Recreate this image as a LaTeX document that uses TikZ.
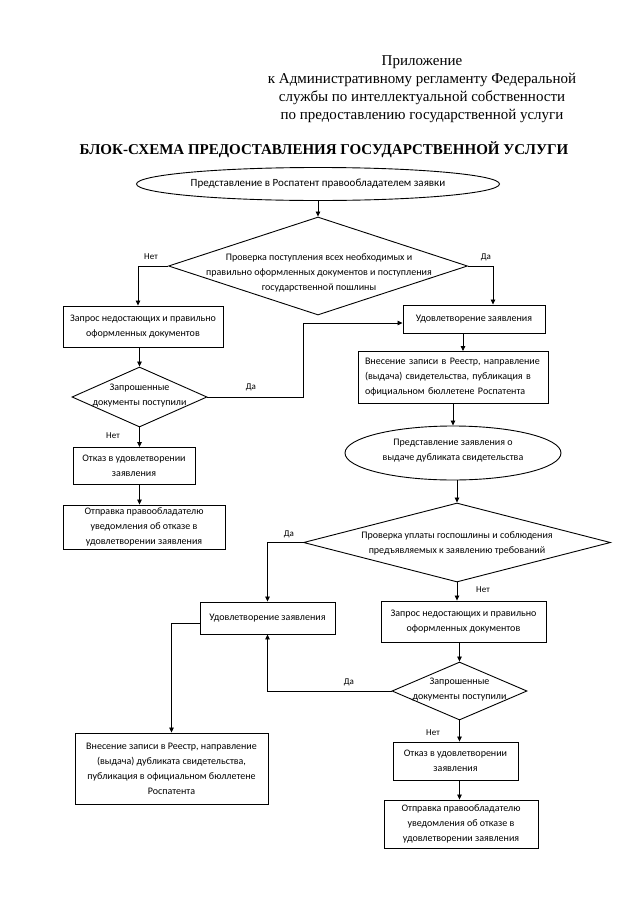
\documentclass[tikz,border=0pt]{standalone}
\usepackage{fontspec}
\setmainfont{Liberation Serif}
\newfontfamily\boxfont{Carlito}
\usetikzlibrary{shapes.geometric,arrows.meta,calc}
\begin{document}
\begin{tikzpicture}[x=1pt,y=-1pt,
  every node/.style={font=\boxfont\fontsize{10}{15}\selectfont},
  box/.style={draw, line width=0.9pt, inner sep=0pt, align=center},
  dia/.style={draw, shape=diamond, line width=0.9pt, inner sep=0pt},
  ell/.style={draw, shape=ellipse, line width=0.9pt, inner sep=0pt},
  txt/.style={align=center, inner sep=0pt},
  lbl/.style={font=\boxfont\fontsize{9}{11}\selectfont, inner sep=0pt},
  arr/.style={-{Triangle[length=5pt,width=4.5pt]}, line width=0.8pt},
  ln/.style={line width=0.8pt}
]
\path[fill=white] (0,0) rectangle (640,905);
\useasboundingbox (0,0) rectangle (640,905);

% header
\node[align=center, inner sep=0pt, font={\rmfamily\fontsize{15}{18}\selectfont}] (hdr) at (422,89)
  {Приложение\\к Административному регламенту Федеральной\\службы по интеллектуальной собственности\\по предоставлению государственной услуги};
\node[inner sep=0pt, font={\rmfamily\bfseries\fontsize{15}{18}\selectfont}] (title) at (324,150)
  {БЛОК-СХЕМА ПРЕДОСТАВЛЕНИЯ ГОСУДАРСТВЕННОЙ УСЛУГИ};

% top ellipse
\node[ell, minimum width=363pt, minimum height=33pt] (e1) at (318,184) {};
\node[txt, font=\boxfont\fontsize{11}{15}\selectfont] (e1t) at (e1) {Представление в Роспатент правообладателем заявки};

% diamond 1
\node[dia, minimum width=299pt, minimum height=98pt] (d1) at (318,266) {};
\node[txt] (d1t) at (319,273) {Проверка поступления всех необходимых и\\правильно оформленных документов и поступления\\государственной пошлины};

% left column
\node[box, minimum width=160pt, minimum height=41pt] (L1) at (143,326.5) {Запрос недостающих и правильно\\оформленных документов};
\node[dia, minimum width=135pt, minimum height=60pt] (d2) at (139.5,397) {};
\node[txt] (d2t) at (139.5,396) {Запрошенные\\документы поступили};
\node[box, minimum width=122pt, minimum height=37pt] (L3) at (134,466) {Отказ в удовлетворении\\заявления};
\node[box, minimum width=162pt, minimum height=44pt] (L4) at (144,527) {Отправка правообладателю\\уведомления об отказе в\\удовлетворении заявления};

% right column
\node[box, minimum width=142pt, minimum height=28pt] (R1) at (474,319) {Удовлетворение заявления};
\node[box, text width=176pt, inner xsep=7pt, minimum height=52pt, align=left] (R2) at (453,377.5) {Внесение записи в Реестр, направление\\(выдача) свидетельства, публикация в\\официальном бюллетене Роспатента};
\node[ell, minimum width=216pt, minimum height=54pt] (e2) at (453,453) {};
\node[txt] (e2t) at (453,450.5) {Представление заявления о\\выдаче дубликата свидетельства};

% diamond 3
\node[dia, minimum width=307pt, minimum height=79pt] (d3) at (457,542.5) {};
\node[txt] (d3t) at (457,543.5) {Проверка уплаты госпошлины и соблюдения\\предъявляемых к заявлению требований};

% lower part
\node[box, minimum width=135pt, minimum height=32pt] (B1) at (267.5,618) {Удовлетворение заявления};
\node[box, minimum width=165pt, minimum height=41pt] (R3) at (463.5,621.5) {Запрос недостающих и правильно\\оформленных документов};
\node[dia, minimum width=135pt, minimum height=58pt] (d4) at (459.5,691) {};
\node[txt] (d4t) at (459.5,690) {Запрошенные\\документы поступили};
\node[box, minimum width=193pt, minimum height=71pt] (B2) at (171.5,768.5) {Внесение записи в Реестр, направление\\(выдача) дубликата свидетельства,\\публикация в официальном бюллетене\\Роспатента};
\node[box, minimum width=125pt, minimum height=38pt] (R4) at (455.5,761) {Отказ в удовлетворении\\заявления};
\node[box, minimum width=154pt, minimum height=48pt] (R5) at (461,824) {Отправка правообладателю\\уведомления об отказе в\\удовлетворении заявления};

% labels
\node[lbl] (n1) at (151,257) {Нет};
\node[lbl] (y1) at (486,257) {Да};
\node[lbl] (y2) at (251,387) {Да};
\node[lbl] (n2) at (113,436) {Нет};
\node[lbl] (y3) at (289,534) {Да};
\node[lbl] (n3) at (483,590) {Нет};
\node[lbl] (y4) at (349,682) {Да};
\node[lbl] (n4) at (433,733) {Нет};

% connectors
\draw[arr] (e1.south) -- (d1.north);
\draw[arr] (d1.west) -| ([xshift=-5pt]L1.north);
\draw[arr] (L1.south -| d2.north) -- (d2.north);
\draw[arr] (d2.south) -- (d2.south |- L3.north);
\draw[arr] (L3.south -| d2.south) -- (L4.north -| d2.south);
\draw[arr] (d2.east) -- ++(96,0) |- ([yshift=-4pt]R1.west);
\draw[arr] (d1.east) -| ([xshift=19pt]R1.north);
\draw[arr] ([xshift=-11pt]R1.south) -- ([xshift=-11pt]R1.south |- R2.north);
\draw[arr] (R2.south) -- (e2.north);
\draw[arr] (e2.south -| d3.north) -- (d3.north);
\draw[arr] (d3.west) -| (B1.north);
\draw[arr] (d3.south) -- (d3.south |- R3.north);
\draw[arr] (R3.south -| d4.north) -- (d4.north);
\draw[arr] (d4.west) -| (B1.south);
\draw[arr] ([yshift=-5pt]B1.west) -| (B2.north);
\draw[arr] (d4.south) -- (d4.south |- R4.north);
\draw[arr] (R4.south -| d4.south) -- (R5.north -| d4.south);
\end{tikzpicture}
\end{document}
